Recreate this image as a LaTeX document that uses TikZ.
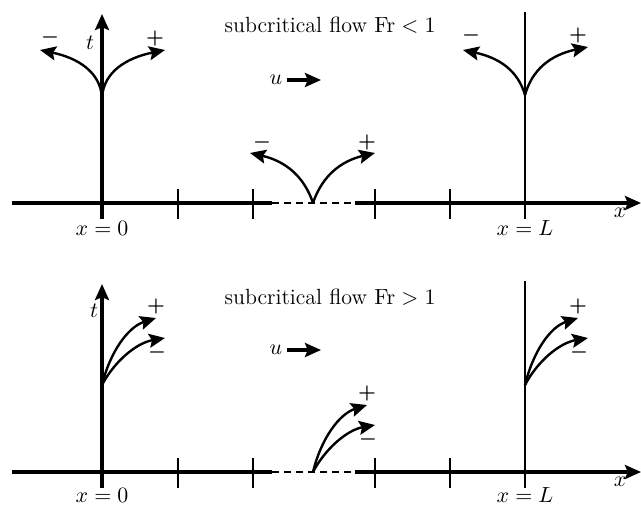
\documentclass[tikz,border=0pt]{standalone}
\usetikzlibrary{arrows.meta}
\begin{document}
\begin{tikzpicture}[x=0.5pt,y=-0.5pt,
  axis/.style={line width=1.7pt},
  tick/.style={line width=1.1pt},
  wall/.style={line width=1.1pt},
  dashseg/.style={line width=0.6pt,dash pattern=on 3.5pt off 2.5pt},
  char/.style={line width=1.2pt,-{Stealth[length=8pt,width=7pt,inset=1.4pt]}},
  axarrow/.style={-{Stealth[length=8pt,width=7pt,inset=1.4pt]}},
  sign/.style={font=\boldmath,inner sep=0pt},
  lbl/.style={inner sep=0pt,font=\fontsize{11}{13}\selectfont}]
\useasboundingbox (0,0) rectangle (641,504);

% ================= TOP PANEL =================
\coordinate (xa0) at (12,203);
\coordinate (xd0) at (272,203);
\coordinate (xd1) at (355,203);
\coordinate (xaE) at (641,203);
\draw[axis] (xa0) -- (xd0);
\draw[dashseg] (xd0) -- (xd1);
\draw[axis,axarrow] (xd1) -- (xaE);
% ticks
\foreach \i/\xx in {a/178,b/253,c/375,d/450}{
  \coordinate (tt\i) at (\xx,189);
  \coordinate (tb\i) at (\xx,219);
  \draw[tick] (tt\i) -- (tb\i);
}
% t axis
\coordinate (tax0) at (102,219);
\coordinate (taxE) at (102,14);
\draw[axis,axarrow] (tax0) -- (taxE);
\node[lbl] (tlab) at (90,43) {$t$};
% wall x=L
\coordinate (w0) at (525,219);
\coordinate (wE) at (525,12);
\draw[wall] (w0) -- (wE);
% labels
\node[lbl] (x0lab) at (102,228) {$x=0$};
\node[lbl] (xLlab) at (525,228) {$x=L$};
\node[lbl] (xlab) at (620,213) {$x$};
\node[lbl] (title1) at (330,25) {subcritical flow $\mathrm{Fr}<1$};
\node[lbl] (u1) at (276,80) {$u$};
\coordinate (ua1) at (287,80);
\coordinate (ub1) at (321,80);
\draw[axis,axarrow] (ua1) -- (ub1);
% characteristics at x=0
\coordinate (c1) at (102,97);
\coordinate (c1m) at (40,50);
\coordinate (c1p) at (165,50);
\draw[char] (c1) .. controls (100,72) and (78,58) .. (c1m);
\draw[char] (c1) .. controls (104,72) and (126,58) .. (c1p);
\node[sign] (s1m) at (50,37) {$-$};
\node[sign] (s1p) at (155,38) {$+$};
% middle
\coordinate (c2) at (313,203);
\coordinate (c2m) at (250,153);
\coordinate (c2p) at (375,153);
\draw[char] (c2) .. controls (304,176) and (285,161) .. (c2m);
\draw[char] (c2) .. controls (322,176) and (341,161) .. (c2p);
\node[sign] (s2m) at (262,142) {$-$};
\node[sign] (s2p) at (367,142) {$+$};
% x=L
\coordinate (c3) at (525,95);
\coordinate (c3m) at (463,50);
\coordinate (c3p) at (588,47);
\draw[char] (c3) .. controls (518,71) and (500,58) .. (c3m);
\draw[char] (c3) .. controls (532,70) and (550,55) .. (c3p);
\node[sign] (s3m) at (471,35) {$-$};
\node[sign] (s3p) at (578,35) {$+$};

% ================= BOTTOM PANEL =================
\coordinate (ya0) at (12,472);
\coordinate (yd0) at (272,472);
\coordinate (yd1) at (355,472);
\coordinate (yaE) at (641,472);
\draw[axis] (ya0) -- (yd0);
\draw[dashseg] (yd0) -- (yd1);
\draw[axis,axarrow] (yd1) -- (yaE);
\foreach \i/\xx in {a/178,b/253,c/375,d/450}{
  \coordinate (ut\i) at (\xx,458);
  \coordinate (ub\i) at (\xx,488);
  \draw[tick] (ut\i) -- (ub\i);
}
\coordinate (tbx0) at (102,488);
\coordinate (tbxE) at (102,284);
\draw[axis,axarrow] (tbx0) -- (tbxE);
\node[lbl] (tlab2) at (94,311) {$t$};
\coordinate (v0) at (525,488);
\coordinate (vE) at (525,281);
\draw[wall] (v0) -- (vE);
\node[lbl] (x0lab2) at (102,495) {$x=0$};
\node[lbl] (xLlab2) at (525,495) {$x=L$};
\node[lbl] (xlab2) at (620,482) {$x$};
\node[lbl] (title2) at (330,297) {subcritical flow $\mathrm{Fr}>1$};
\node[lbl] (u2) at (276,350) {$u$};
\coordinate (ua2) at (287,350);
\coordinate (ub2) at (321,350);
\draw[axis,axarrow] (ua2) -- (ub2);
% x=0
\coordinate (d1) at (102,385);
\coordinate (d1p) at (156,318);
\coordinate (d1m) at (165,338);
\draw[char] (d1) .. controls (110,352) and (128,327) .. (d1p);
\draw[char] (d1) .. controls (114,362) and (136,343) .. (d1m);
\node[sign] (t1p) at (156,306) {$+$};
\node[sign] (t1m) at (157,352) {$-$};
% middle
\coordinate (d2) at (313,472);
\coordinate (d2p) at (367,405);
\coordinate (d2m) at (375,425);
\draw[char] (d2) .. controls (321,439) and (339,414) .. (d2p);
\draw[char] (d2) .. controls (325,449) and (347,430) .. (d2m);
\node[sign] (t2p) at (367,393) {$+$};
\node[sign] (t2m) at (368,439) {$-$};
% x=L
\coordinate (d3) at (525,385);
\coordinate (d3p) at (578,318);
\coordinate (d3m) at (588,338);
\draw[char] (d3) .. controls (533,352) and (550,327) .. (d3p);
\draw[char] (d3) .. controls (537,362) and (559,343) .. (d3m);
\node[sign] (t3p) at (578,306) {$+$};
\node[sign] (t3m) at (579,352) {$-$};
\end{tikzpicture}
\end{document}
